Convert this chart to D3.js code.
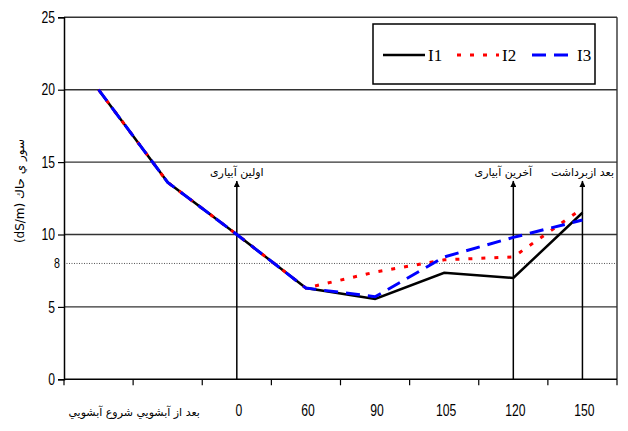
<!DOCTYPE html>
<html>
<head>
<meta charset="utf-8">
<script src="https://cdn.jsdelivr.net/npm/d3@7/dist/d3.min.js"></script>
<style>
  html, body { margin: 0; padding: 0; background: #fff; }
  svg { display: block; }
  .num { font-family: "Liberation Sans", Arial, sans-serif; }
  .ar { font-family: "DejaVu Sans", "Noto Sans", sans-serif; }
</style>
</head>
<body>
<svg id="chart" width="628" height="431"></svg>
<script>
// Soil salinity (dS/m) over the leaching / irrigation stages
const categories = ["شروع آبشويي", "بعد از آبشويي", "0", "60", "90", "105", "120", "150"];
const seriesNames = ["I1", "I2", "I3"];
const valuesI1 = [20, 13.6, 10, 6.3, 5.55, 7.35, 7.0, 11.5];
const valuesI2 = [20, 13.6, 10, 6.3, 7.4, 8.25, 8.45, 11.8];
const valuesI3 = [20, 13.6, 10, 6.3, 5.7, 8.45, 9.8, 11.0];
const yTicks = [0, 5, 10, 15, 20, 25];
const referenceLevel = 8;
const yAxisLabel = "(dS/m)   سور ي حاك";

// Vertical arrows marking events, with their captions
const events = [
  { category: "0", text: "اولین آبیاری", dx: 0 },
  { category: "120", text: "آخرین آبیاری", dx: -10 },
  { category: "150", text: "بعد ازبرداشت", dx: 0 }
];
const arrowTop = 13.7;

const svg = d3.select("#chart");
const plotLeft = 64, plotRight = 617, plotTop = 17.3, plotBottom = 379.3;

const x = d3.scaleBand().domain(categories).range([plotLeft, plotRight]).padding(0);
const y = d3.scaleLinear().domain([0, 25]).range([plotBottom, plotTop]);
const cx = c => x(c) + x.bandwidth() / 2;

// Horizontal grid lines
svg.append("g").selectAll("line")
  .data(yTicks.filter(v => v > 0))
  .join("line")
  .attr("x1", plotLeft).attr("x2", plotRight)
  .attr("y1", d => y(d)).attr("y2", d => y(d))
  .attr("stroke", "#333").attr("stroke-width", 1.4);

// Right frame edge
svg.append("line")
  .attr("x1", plotRight).attr("x2", plotRight).attr("y1", y(25)).attr("y2", y(0))
  .attr("stroke", "#333").attr("stroke-width", 1.4);

// Reference level (dotted)
svg.append("line")
  .attr("x1", plotLeft).attr("x2", plotRight)
  .attr("y1", y(referenceLevel)).attr("y2", y(referenceLevel))
  .attr("stroke", "#555").attr("stroke-width", 1)
  .attr("stroke-dasharray", "1,1.5");
svg.append("text").attr("class", "num")
  .attr("x", 60).attr("y", y(referenceLevel) + 4.5)
  .attr("text-anchor", "end").attr("font-size", 14)
  .text(String(referenceLevel));

// Y axis
const yAxis = d3.axisLeft(y).tickValues(yTicks).tickSize(6).tickPadding(3).tickFormat(d3.format("d"));
const gy = svg.append("g").attr("transform", `translate(${plotLeft},0)`).call(yAxis);
gy.attr("font-family", null).attr("font-size", null);
gy.select(".domain").attr("stroke", "#000").attr("stroke-width", 1.5);
gy.selectAll(".tick line").attr("stroke", "#000").attr("stroke-width", 1.2);
gy.selectAll(".tick text").attr("class", "num").attr("font-size", 16).attr("fill", "#000");

// X axis: ticks at category boundaries
const boundaries = categories.map(c => x(c)).concat([plotRight]);
svg.append("line")
  .attr("x1", plotLeft).attr("x2", plotRight).attr("y1", plotBottom).attr("y2", plotBottom)
  .attr("stroke", "#000").attr("stroke-width", 1.5);
svg.append("g").selectAll("line")
  .data(boundaries)
  .join("line")
  .attr("x1", d => d).attr("x2", d => d)
  .attr("y1", plotBottom).attr("y2", plotBottom + 6)
  .attr("stroke", "#000").attr("stroke-width", 1.2);

// Category labels: the two leaching stages share one caption
svg.append("text").attr("class", "ar")
  .attr("x", (cx(categories[0]) + cx(categories[1])) / 2 + 1)
  .attr("y", 416)
  .attr("text-anchor", "middle").attr("font-size", 11)
  .text(categories[1] + " " + categories[0]);
svg.append("g").selectAll("text")
  .data(categories.slice(2))
  .join("text")
  .attr("class", "num")
  .attr("x", d => cx(d) + 2)
  .attr("y", 416)
  .attr("text-anchor", "middle").attr("font-size", 16)
  .text(d => d);

// Condensed look for the numeric labels
svg.selectAll("text.num").each(function () {
  const w = this.getComputedTextLength();
  d3.select(this).attr("textLength", w * 0.76).attr("lengthAdjust", "spacingAndGlyphs");
});

// Y axis title
svg.append("text").attr("class", "ar")
  .attr("transform", `translate(24,191) rotate(-90)`)
  .attr("text-anchor", "middle").attr("font-size", 12)
  .text(yAxisLabel);

// Event arrows
const defs = svg.append("defs");
defs.append("marker")
  .attr("id", "arrowhead").attr("viewBox", "0 0 10 10")
  .attr("refX", 10).attr("refY", 5)
  .attr("markerWidth", 6).attr("markerHeight", 6)
  .attr("markerUnits", "userSpaceOnUse")
  .attr("orient", "auto")
  .append("path").attr("d", "M0,0 L10,5 L0,10 Z").attr("fill", "#000");

svg.append("g").selectAll("line")
  .data(events)
  .join("line")
  .attr("x1", d => cx(d.category)).attr("x2", d => cx(d.category))
  .attr("y1", y(0)).attr("y2", y(arrowTop))
  .attr("stroke", "#000").attr("stroke-width", 1.5)
  .attr("marker-end", "url(#arrowhead)");

svg.append("g").selectAll("text")
  .data(events)
  .join("text")
  .attr("class", "ar")
  .attr("x", d => cx(d.category) + d.dx)
  .attr("y", 176)
  .attr("text-anchor", "middle").attr("font-size", 11)
  .text(d => d.text);

// Series lines
const styles = {
  I1: { color: "#000", dash: null, width: 2.5 },
  I2: { color: "#f00", dash: "4,9", width: 3 },
  I3: { color: "#00f", dash: "14,8", width: 3 }
};
const seriesData = { I1: valuesI1, I2: valuesI2, I3: valuesI3 };
const line = d3.line().x((d, i) => cx(categories[i])).y(d => y(d));

// Draw I1 first, then I2, then I3 on top
seriesNames.forEach(name => {
  const s = styles[name];
  svg.append("path")
    .datum(seriesData[name])
    .attr("d", line)
    .attr("fill", "none")
    .attr("stroke", s.color)
    .attr("stroke-width", s.width)
    .attr("stroke-dasharray", s.dash)
    .attr("stroke-linejoin", "miter");
});

// Legend
const lg = svg.append("g");
lg.append("rect")
  .attr("x", 373).attr("y", 24).attr("width", 222).attr("height", 60)
  .attr("fill", "#fff").attr("stroke", "#000").attr("stroke-width", 1.5);
const legendX = [383, 457, 532];
seriesNames.forEach((name, i) => {
  const s = styles[name];
  lg.append("line")
    .attr("x1", legendX[i]).attr("x2", legendX[i] + 42)
    .attr("y1", 55).attr("y2", 55)
    .attr("stroke", s.color).attr("stroke-width", s.width)
    .attr("stroke-dasharray", s.dash);
  lg.append("text")
    .attr("x", legendX[i] + 45).attr("y", 61)
    .attr("font-family", "'Liberation Serif', 'Times New Roman', serif")
    .attr("font-size", 17)
    .text(name);
});
</script>
</body>
</html>
